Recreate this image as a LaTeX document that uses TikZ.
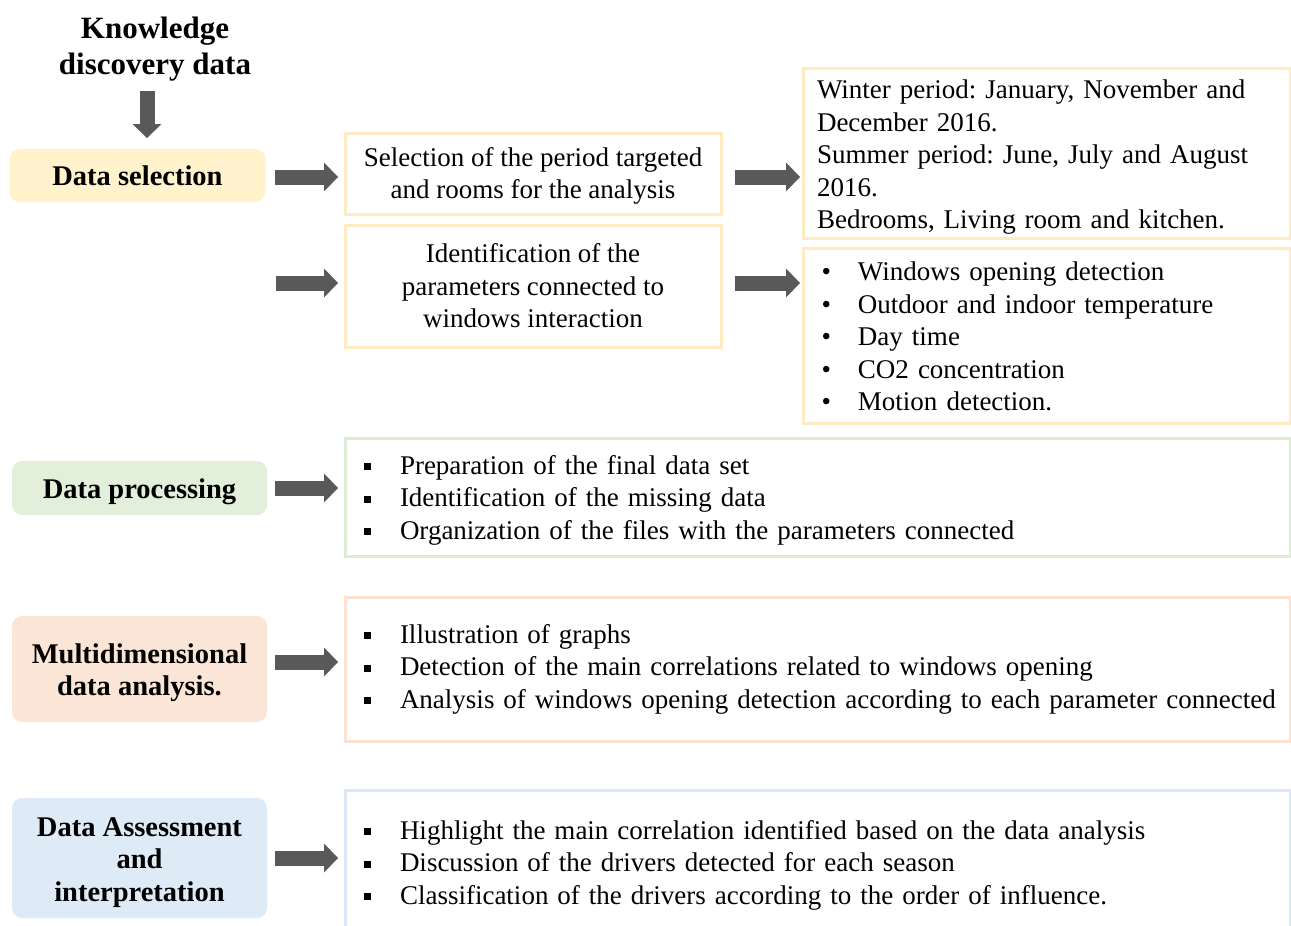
\documentclass[tikz,border=0pt]{standalone}
\usepackage{fontspec}
\setmainfont{Liberation Serif}
\usetikzlibrary{arrows.meta}
\definecolor{ylfill}{HTML}{FFF2CC}
\definecolor{ylline}{HTML}{FFEBC2}
\definecolor{grfill}{HTML}{E2EFDA}
\definecolor{grline}{HTML}{DDECD4}
\definecolor{pkfill}{HTML}{FBE5D6}
\definecolor{pkline}{HTML}{FBE2D3}
\definecolor{blfill}{HTML}{DEEBF7}
\definecolor{blline}{HTML}{DCE8F5}
\definecolor{arrowgray}{HTML}{595959}
\newcommand\mybul{\makebox[41pt][l]{\,•}}
\newcommand\mysq{\makebox[36pt][l]{\rule[4pt]{7pt}{7pt}}}
\newcommand\tstrut[1]{\rule{0pt}{#1}}
\begin{document}
\begin{tikzpicture}[x=1pt,y=-1pt,
  lab/.style={rounded corners=10pt, minimum width=256pt, align=center, inner sep=0pt, outer sep=0pt,
              font=\frenchspacing\bfseries\fontsize{28.5}{32.5}\selectfont},
  obox/.style={draw, line width=3pt, inner sep=0pt, outer sep=0pt, font=\frenchspacing\fontsize{27}{32.5}\selectfont},
  barrow/.style={draw=arrowgray, line width=15pt, -{Triangle[length=14pt,width=29pt,line width=0pt]}},
]
\useasboundingbox (0,0) rectangle (1291,926);
\clip (0,0) rectangle (1291,926);

% title
\node[font=\bfseries\fontsize{31}{36}\selectfont, align=center, inner sep=0pt, outer sep=0pt] (kdd) at (155,49) {Knowledge\\discovery data};

% left labels
\node[lab, fill=ylfill, minimum height=53pt] (ds) at (137.5,175.5) {Data selection};
\node[lab, fill=grfill, minimum height=54pt, minimum width=255pt] (dp) at (139.5,488) {\tstrut{28pt}Data processing};
\node[lab, fill=pkfill, minimum height=106pt, minimum width=255pt] (mda) at (139.5,669) {\tstrut{27pt}Multidimensional\\data analysis.};
\node[lab, fill=blfill, minimum height=120pt, minimum width=255pt] (dai) at (139.5,858) {\tstrut{28pt}Data Assessment\\and\\interpretation};

% middle boxes
\node[obox, draw=ylline, minimum width=376pt, minimum height=81pt, align=center] (sel) at (533,173.5)
  {\tstrut{24pt}Selection of the period targeted\\and rooms for the analysis};
\node[obox, draw=ylline, minimum width=376pt, minimum height=122pt, align=center] (idf) at (533,286)
  {Identification of the\\parameters connected to\\windows interaction};

% right boxes
\node[obox, draw=ylline, minimum width=487pt, minimum height=170pt, text width=459pt, align=left] (win) at (1046.5,153)
  {\tstrut{27pt}Winter period: January, November and\\December 2016.\\Summer period: June, July and August\\2016.\\Bedrooms, Living room and kitchen.};
\node[obox, draw=ylline, minimum width=487pt, minimum height=175pt, text width=459pt, align=left] (par) at (1046.5,335.5)
  {\tstrut{21pt}\mybul Windows opening detection\\\mybul Outdoor and indoor temperature\\\mybul Day time\\\mybul CO2 concentration\\\mybul Motion detection.};

% wide boxes
\node[obox, draw=grline, minimum width=945pt, minimum height=118pt, text width=907pt, align=left] (grb) at (817.5,497)
  {\tstrut{25pt}\mysq Preparation of the final data set\\\mysq Identification of the missing data\\\mysq Organization of the files with the parameters connected};
\node[obox, draw=pkline, minimum width=945pt, minimum height=144pt, text width=907pt, align=left] (pkb) at (817.5,669)
  {\mysq Illustration of graphs\\\mysq Detection of the main correlations related to windows opening\\\mbox{\mysq Analysis of windows opening detection according to each parameter connected}};
\node[obox, draw=blline, minimum width=945pt, minimum height=147pt, text width=907pt, align=left] (blb) at (817.5,863.5)
  {\tstrut{22pt}\mysq Highlight the main correlation identified based on the data analysis\\\mysq Discussion of the drivers detected for each season\\\mysq Classification of the drivers according to the order of influence.};

% arrows
\draw[barrow, shorten <=10pt, shorten >=11pt] ([xshift=-8pt]kdd.south) -- ([xshift=-8pt]kdd.south |- ds.north);
\draw[barrow, shorten <=9pt, shorten >=7pt] ([yshift=-1.5pt]ds.east) -- ([yshift=-1.5pt]ds.east -| sel.west);
\coordinate (c2) at (266.5,283);
\draw[barrow, shorten <=9pt, shorten >=7pt] (c2) -- (c2 -| idf.west);
\draw[barrow, shorten <=14pt, shorten >=3pt] ([yshift=-3.5pt]sel.east) -- ([yshift=-3.5pt]sel.east -| win.west);
\draw[barrow, shorten <=14pt, shorten >=3pt] ([yshift=3pt]idf.east) -- ([yshift=3pt]idf.east -| par.west);
\draw[barrow, shorten <=8pt, shorten >=7pt] (dp.east) -- (dp.east -| grb.west);
\draw[barrow, shorten <=8pt, shorten >=7pt] ([yshift=7pt]mda.east) -- ([yshift=7pt]mda.east -| pkb.west);
\draw[barrow, shorten <=8pt, shorten >=7pt] (dai.east) -- (dai.east -| blb.west);
\end{tikzpicture}
\end{document}
